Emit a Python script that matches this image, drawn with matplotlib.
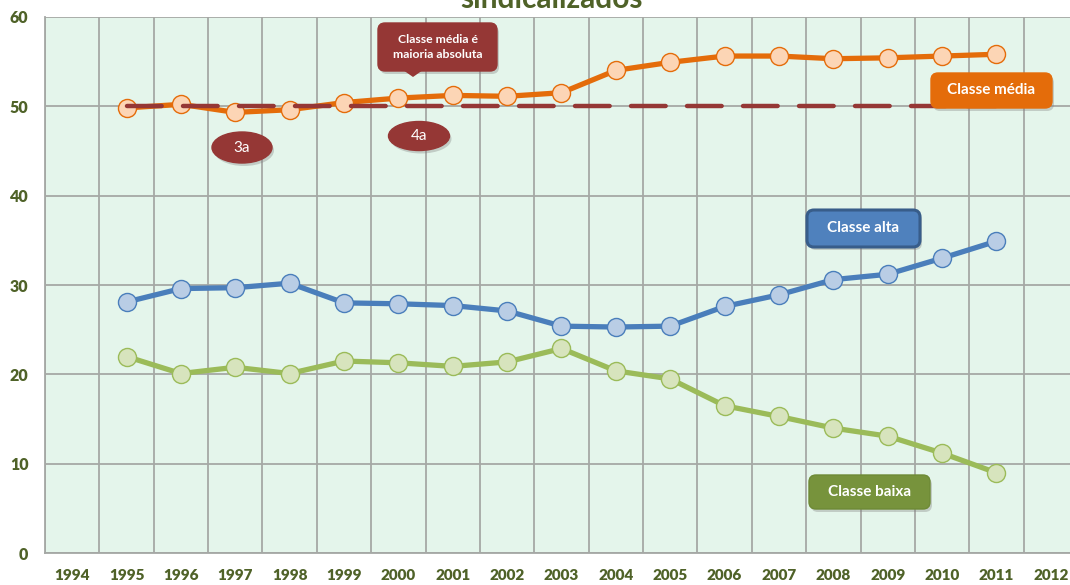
import matplotlib
matplotlib.use("Agg")
import matplotlib.pyplot as plt
from matplotlib.patches import FancyBboxPatch, Ellipse, Polygon
from matplotlib.transforms import Affine2D

plt.rcParams['font.family'] = ['Lato', 'DejaVu Sans']

years = list(range(1995, 2012))
classe_media = [49.8, 50.2, 49.3, 49.6, 50.4, 50.9, 51.2, 51.1, 51.5, 54.0, 54.9, 55.6, 55.6, 55.3, 55.4, 55.6, 55.8]
classe_alta = [28.1, 29.6, 29.7, 30.2, 28.0, 27.9, 27.7, 27.1, 25.4, 25.3, 25.4, 27.6, 28.9, 30.6, 31.2, 33.0, 34.9]
classe_baixa = [22.0, 20.1, 20.8, 20.1, 21.5, 21.3, 20.9, 21.4, 22.9, 20.4, 19.5, 16.5, 15.3, 14.0, 13.1, 11.2, 9.0]
ref_line = [50] * len(years)
tick_years = list(range(1994, 2013))
y_ticks = [0, 10, 20, 30, 40, 50, 60]

W, H = 1070, 585
fig = plt.figure(figsize=(W / 100, H / 100), dpi=100)
fig.patch.set_facecolor('white')
left, right, top, bottom = 45, 1078, 16.7, 553.3
ax = fig.add_axes([left / W, 1 - bottom / H, (right - left) / W, (bottom - top) / H])
ax.set_facecolor('#E4F5EB')

olive = '#4F6228'
gridc = '#A5A8A5'

ax.set_xlim(1993.5, 2012.5)
ax.set_ylim(0, 60)
ax.set_xticks(tick_years)
ax.set_xticklabels([str(t) for t in tick_years])
ax.set_xticks([t + 0.5 for t in range(1993, 2013)], minor=True)
ax.set_yticks(y_ticks)
ax.tick_params(axis='x', which='both', length=0, pad=11, labelsize=11, labelcolor=olive)
ax.tick_params(axis='y', length=0, pad=12, labelsize=11.5, labelcolor=olive)
for lab in ax.get_xticklabels() + ax.get_yticklabels():
    lab.set_fontweight('heavy')
ax.grid(True, axis='x', which='minor', color=gridc, lw=1.3)
ax.grid(True, axis='y', which='major', color=gridc, lw=1.3)
ax.grid(False, axis='x', which='major')
for s in ['top', 'right']:
    ax.spines[s].set_visible(False)
for s in ['left', 'bottom']:
    ax.spines[s].set_color(gridc)
    ax.spines[s].set_linewidth(1.3)
ax.set_axisbelow(True)

ax.plot(years, classe_baixa, color='#9BBB59', lw=3.8, marker='o', ms=13,
        mfc='#D7E4BD', mec='#9BBB59', mew=1.0, zorder=3, solid_joinstyle='round')
ax.plot(years, classe_alta, color='#4A7EBB', lw=3.8, marker='o', ms=13,
        mfc='#B9CDE5', mec='#4A7EBB', mew=1.0, zorder=3, solid_joinstyle='round')
ax.plot(years, classe_media, color='#E46C0A', lw=3.8, marker='o', ms=13,
        mfc='#FCD5B5', mec='#E46C0A', mew=1.0, zorder=3, solid_joinstyle='round')
ax.plot(years, ref_line, color='#953735', lw=3.2, dashes=(7.8, 4.8),
        dash_capstyle='round', zorder=4)

# pixel transform (x from left, y from top)
px = Affine2D().scale(1 / W, -1 / H).translate(0, 1) + fig.transFigure

def box(x0, y0, x1, y1, fc, ec, text, fs=11, r=7, lw=1.0):
    shadow = FancyBboxPatch((x0 + 2, y0 + 3), x1 - x0, y1 - y0,
                            boxstyle=f"round,pad=0,rounding_size={r}",
                            fc='#808080', ec='none', alpha=0.35, transform=px, zorder=5)
    fig.add_artist(shadow)
    p = FancyBboxPatch((x0, y0), x1 - x0, y1 - y0,
                       boxstyle=f"round,pad=0,rounding_size={r}",
                       fc=fc, ec=ec, lw=lw, transform=px, zorder=6)
    fig.add_artist(p)
    fig.text((x0 + x1) / 2 / W, 1 - (y0 + y1) / 2 / H, text, color='white',
             fontsize=fs, fontweight='bold', ha='center', va='center', zorder=7)

box(931, 73, 1052, 108, '#E46C0A', '#E46C0A', 'Classe média')
box(807, 210, 920, 247, '#4F81BD', '#385D8A', 'Classe alta', lw=2.2)
box(809, 475, 930, 509, '#77933C', '#6E8A36', 'Classe baixa')

# callout
sh = FancyBboxPatch((380, 26), 119, 48, boxstyle="round,pad=0,rounding_size=7",
                    fc='#808080', ec='none', alpha=0.35, transform=px, zorder=5)
fig.add_artist(sh)
cb = FancyBboxPatch((378, 23), 119, 48, boxstyle="round,pad=0,rounding_size=7",
                    fc='#953735', ec='#953735', transform=px, zorder=6)
fig.add_artist(cb)
tri = Polygon([[403, 70], [423, 70], [413, 77]], closed=True, fc='#953735',
              ec='none', transform=px, zorder=6)
fig.add_artist(tri)
fig.text(437.5 / W, 1 - 47 / H, 'Classe média é\nmaioria absoluta', color='white',
         fontsize=8.8, fontweight='bold', ha='center', va='center', linespacing=1.5, zorder=7)

for (cx, cy, w, h, t) in [(242, 147.5, 60, 31, '3a'), (419, 136, 61, 29, '4a')]:
    es = Ellipse((cx + 2, cy + 3), w, h, fc='#808080', ec='none', alpha=0.35,
                 transform=px, zorder=5)
    fig.add_artist(es)
    e = Ellipse((cx, cy), w, h, fc='#953735', ec='#953735', transform=px, zorder=6)
    fig.add_artist(e)
    fig.text(cx / W, 1 - cy / H, t, color='white', fontsize=11,
             ha='center', va='center', zorder=7)

fig.text(552 / W, 1 - 8 / H, 'sindicalizados', color=olive, fontsize=21.5,
         fontweight='bold', ha='center', va='baseline')

fig.savefig('out.png', dpi=100)
